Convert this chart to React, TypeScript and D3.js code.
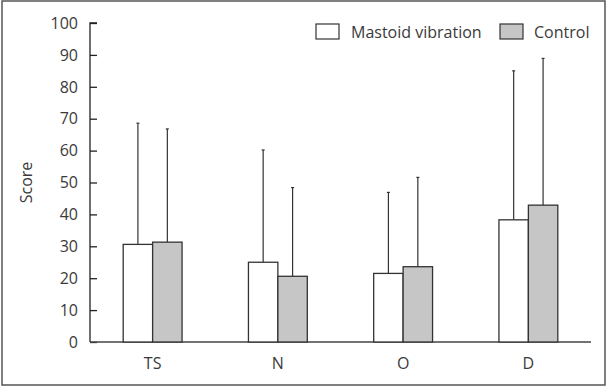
import React, { useRef, useEffect } from "react";
import * as d3 from "d3";

const categories = ["TS", "N", "O", "D"];
const seriesNames = ["Mastoid vibration", "Control"];
const vibrationMean = [30.6, 25.0, 21.5, 38.3];
const vibrationUpper = [68.6, 60.2, 46.9, 85.0];
const controlMean = [31.3, 20.6, 23.6, 42.9];
const controlUpper = [66.8, 48.4, 51.6, 88.9];
const yTicks = [0, 10, 20, 30, 40, 50, 60, 70, 80, 90, 100];

const W = 607;
const H = 387;
const FONT = "'Open Sans', 'Noto Sans', sans-serif";
const fills = ["#ffffff", "#c6c6c6"];

const App = () => {
  const svgRef = useRef<SVGSVGElement | null>(null);
  const margin = { top: 23, right: 16, bottom: 45, left: 90 };

  useEffect(() => {
    const svg = d3.select(svgRef.current);
    svg.selectAll("*").remove();

    // outer frame
    svg
      .append("rect")
      .attr("x", 2)
      .attr("y", 1)
      .attr("width", W - 4)
      .attr("height", H - 3)
      .attr("fill", "white")
      .attr("stroke", "#555")
      .attr("stroke-width", 1.5);

    const x0 = d3
      .scaleBand()
      .domain(categories)
      .range([margin.left, W - margin.right])
      .padding(0);
    const barW = x0.bandwidth() * 0.235;

    const y = d3
      .scaleLinear()
      .domain([0, 100])
      .range([H - margin.bottom, margin.top]);

    // y axis, ticks point inward
    const yAxis = svg
      .append("g")
      .attr("transform", `translate(${margin.left},0)`)
      .call(
        d3
          .axisRight(y)
          .tickValues(yTicks)
          .tickSize(7)
          .tickFormat(() => "")
      );
    yAxis.select(".domain").attr("stroke", "#222").attr("stroke-width", 1.3).attr("d", `M7,${y(100)}H0V${y(0)}`);
    yAxis.selectAll(".tick line").attr("stroke", "#222").attr("stroke-width", 1.3);

    svg
      .append("g")
      .selectAll("text")
      .data(yTicks)
      .enter()
      .append("text")
      .attr("x", margin.left - 12)
      .attr("y", (d) => y(d))
      .attr("dy", "0.36em")
      .attr("text-anchor", "end")
      .style("font-family", FONT)
      .style("font-size", "16px")
      .style("fill", "#3a3a3a")
      .text((d) => d);

    // x axis line
    svg
      .append("line")
      .attr("x1", margin.left)
      .attr("x2", W - margin.right)
      .attr("y1", y(0))
      .attr("y2", y(0))
      .attr("stroke", "#444")
      .attr("stroke-width", 1.3);

    svg
      .append("g")
      .selectAll("text")
      .data(categories)
      .enter()
      .append("text")
      .attr("x", (d) => (x0(d) as number) + x0.bandwidth() / 2)
      .attr("y", H - 18)
      .attr("text-anchor", "middle")
      .style("font-family", FONT)
      .style("font-size", "16px")
      .style("fill", "#3a3a3a")
      .text((d) => d);

    svg
      .append("text")
      .attr("transform", `translate(32,${(y(0) + y(100)) / 2}) rotate(-90)`)
      .attr("text-anchor", "middle")
      .style("font-family", FONT)
      .style("font-size", "16px")
      .style("fill", "#3a3a3a")
      .text("Score");

    const series = [
      { mean: vibrationMean, upper: vibrationUpper },
      { mean: controlMean, upper: controlUpper },
    ];

    series.forEach((s, idx) => {
      const g = svg.append("g");
      const xPos = (i: number) => (x0(categories[i]) as number) + x0.bandwidth() / 2 - barW + idx * barW;

      // error bars (upper only)
      categories.forEach((c, i) => {
        const cx = xPos(i) + barW / 2;
        g.append("line")
          .attr("x1", cx)
          .attr("x2", cx)
          .attr("y1", y(s.mean[i]))
          .attr("y2", y(s.upper[i]))
          .attr("stroke", "#333")
          .attr("stroke-width", 1.2);
        g.append("line")
          .attr("x1", cx - 1.5)
          .attr("x2", cx + 1.5)
          .attr("y1", y(s.upper[i]))
          .attr("y2", y(s.upper[i]))
          .attr("stroke", "#333")
          .attr("stroke-width", 1.2);
      });

      g.selectAll("rect")
        .data(s.mean)
        .enter()
        .append("rect")
        .attr("x", (d, i) => xPos(i))
        .attr("y", (d) => y(d))
        .attr("width", barW)
        .attr("height", (d) => y(0) - y(d))
        .attr("fill", fills[idx])
        .attr("stroke", "#333")
        .attr("stroke-width", 1.3);
    });

    // legend
    const legendPos = [
      { x: 316, tx: 351 },
      { x: 500, tx: 534 },
    ];
    seriesNames.forEach((name, idx) => {
      svg
        .append("rect")
        .attr("x", legendPos[idx].x)
        .attr("y", 24)
        .attr("width", 23)
        .attr("height", 15)
        .attr("fill", fills[idx])
        .attr("stroke", "#333")
        .attr("stroke-width", 1.2);
      svg
        .append("text")
        .attr("x", legendPos[idx].tx)
        .attr("y", 37.5)
        .style("font-family", FONT)
        .style("font-size", "16px")
        .style("fill", "#3a3a3a")
        .text(name);
    });
  }, []);

  return (
    <svg
      ref={svgRef}
      width={W}
      height={H}
      style={{ position: "absolute", left: 0, top: 0, display: "block" }}
    ></svg>
  );
};

export default App;
